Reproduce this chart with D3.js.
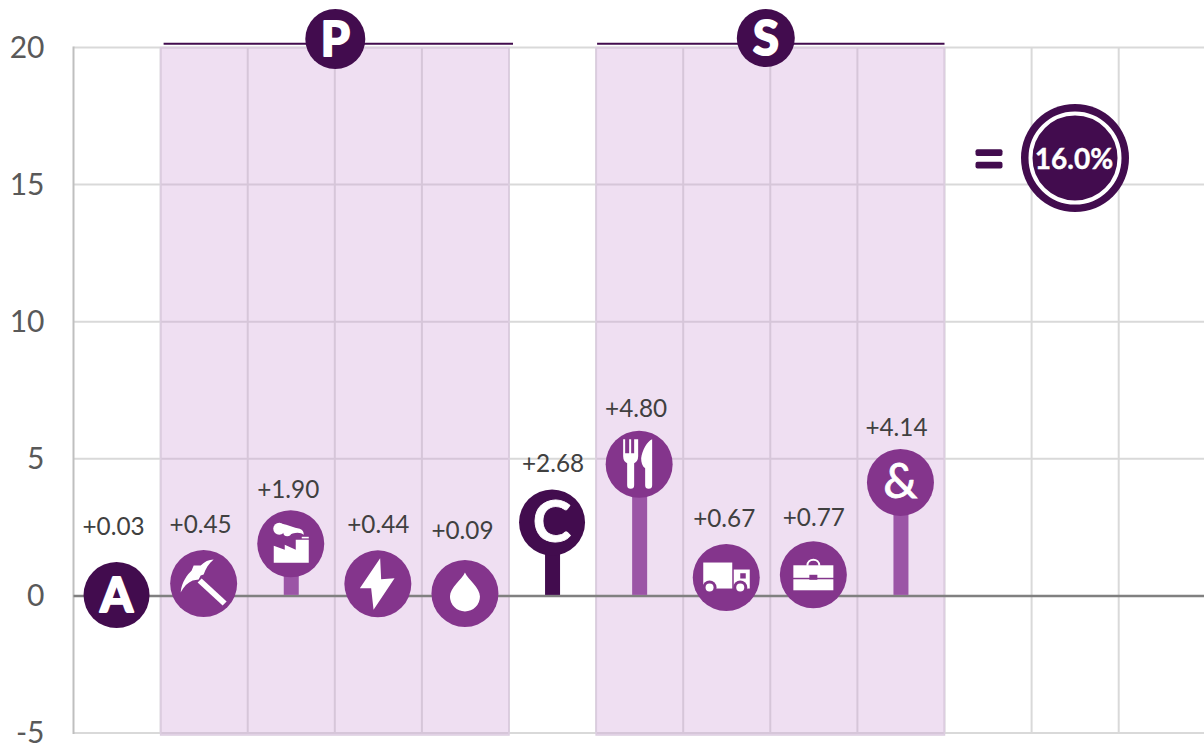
<!DOCTYPE html>
<html><head><meta charset="utf-8">
<script src="https://cdn.jsdelivr.net/npm/d3@7/dist/d3.min.js"></script>
<style>html,body{margin:0;background:#fff}svg{display:block}text{font-family:Lato,"Open Sans",sans-serif}</style>
</head><body><svg id="c" width="1204" height="745"></svg>
<script>
const categories=["Agriculture","Mining","Manufacturing","Electricity","Water","Construction","Hospitality","Transport","Business","Other"];
const values=[0.03,0.45,1.90,0.44,0.09,2.68,4.80,0.67,0.77,4.14];
const valueLabels=["+0.03","+0.45","+1.90","+0.44","+0.09","+2.68","+4.80","+0.67","+0.77","+4.14"];
const icons=["A","pick","factory","bolt","drop","C","fork","truck","case","&"];
const yTicks=[-5,0,5,10,15,20];
const groupNames=["P","S"];
const groupFirst=[1,6];
const groupLast=[4,9];
const totalLabel="16.0%";

const DARK="#420c4e",PURPLE="#84358c",STEM="#9b55a6",GRID="#d9d9d9";
const labelLift=[69,59,54,59,63,59,56,59,57,55];
const labelShift=[-3.5,-3.5,-3,0,-3,0.5,-3.5,-2.5,0,-4.5];
const svg=d3.select("#c");
const slots=d3.range(13);
const x=d3.scaleBand().domain(slots).range([73.5,1205.8]);
const y=d3.scaleLinear().domain([-5,20]).range([733,47.5]);
const cx=i=>x(i)+x.bandwidth()/2;

// gridlines
const grid=svg.append("g");
grid.selectAll("line.h").data(yTicks).join("line").attr("class","h")
 .attr("x1",x.range()[0]).attr("x2",1204).attr("y1",d=>y(d)).attr("y2",d=>y(d))
 .attr("stroke",GRID).attr("stroke-width",2);
grid.selectAll("line.v").data(slots.slice(1)).join("line").attr("class","v")
 .attr("x1",d=>x(d)).attr("x2",d=>x(d)).attr("y1",y(20)).attr("y2",y(-5))
 .attr("stroke",GRID).attr("stroke-width",2);
grid.append("line").attr("x1",x(0)).attr("x2",x(0)).attr("y1",y(20)-1).attr("y2",y(-5)+1)
 .attr("stroke","#bfbfbf").attr("stroke-width",2);

// y axis labels
const ax=svg.append("g").attr("transform",`translate(${x(0)},0)`)
 .call(d3.axisLeft(y).tickValues(yTicks).tickSize(0).tickPadding(29).tickFormat(d=>String(d)));
ax.select(".domain").remove();
ax.selectAll("text").attr("font-size",30).attr("fill","#595959").style("font-family","Lato,sans-serif");

// group bands
groupNames.forEach((g,k)=>{
 const x0=x(groupFirst[k]),x1=x(groupLast[k])+x.bandwidth();
 svg.append("rect").attr("x",x0).attr("y",y(20)).attr("width",x1-x0).attr("height",735-y(20))
  .attr("fill","#d1a4da").attr("fill-opacity",0.35);
 svg.append("rect").attr("x",x0).attr("y",y(20)).attr("width",x1-x0).attr("height",735-y(20))
  .attr("fill","none").attr("stroke","#dccde0").attr("stroke-width",1.5);
});

// zero line
svg.append("line").attr("x1",x(0)).attr("x2",1204).attr("y1",y(0)).attr("y2",y(0))
 .attr("stroke","#808080").attr("stroke-width",2.5);

// group headers
const headerOffset=[[3,4],[1,0]];
groupNames.forEach((g,k)=>{
 const x0=x(groupFirst[k]),x1=x(groupLast[k])+x.bandwidth();
 svg.append("line").attr("x1",x0+headerOffset[k][0]).attr("x2",x1+headerOffset[k][1]).attr("y1",43.7).attr("y2",43.7)
  .attr("stroke",DARK).attr("stroke-width",2);
 const mx=(x0+x1)/2+(k?-4.5:0.5);
 const r=svg.append("g").attr("transform",`translate(${mx},${k?38:39})`);
 r.append("circle").attr("r",k?29:30).attr("fill",DARK);
 letter(r,g,47,16.5);
});

function letter(sel,t,size,dy,sw=2.2){
 sel.append("text").attr("text-anchor","middle").attr("y",dy).attr("font-size",size)
  .attr("font-weight",700).attr("fill","#fff").attr("stroke","#fff").attr("stroke-width",sw)
  .attr("stroke-linejoin","round").text(t);
}

const draw={
 A:g=>letter(g,"A",47,17),
 C:g=>letter(g,"C",58,20,0.8),
 "&":g=>g.append("text").attr("text-anchor","middle").attr("y",16).attr("font-size",48)
   .attr("fill","#fff").attr("stroke","#fff").attr("stroke-width",0.8).text("&"),
 pick:g=>{
  g.append("path").attr("fill","#fff").attr("d","M-23,9C-22,-2-16,-9-12,-13L-10,-18L-3,-18C1,-22 5,-24 10,-24C5,-20 2,-15 0,-9L-3,-8L-5,-4L-11,-3C-16,-1-20,3-23,9Z");
  g.append("path").attr("fill","#fff").attr("d","M-6,-1L-2,-5L23,18L19,22Z");
 },
 factory:g=>{
  g.append("path").attr("fill","#fff").attr("d","M-17,19V2L-6,6V1L5,6V-4H18V19Z");
  g.append("rect").attr("x",11).attr("y",-7).attr("width",7).attr("height",1.6).attr("fill","#fff");
  g.append("circle").attr("cx",-11.5).attr("cy",-15).attr("r",6).attr("fill","#fff");
  g.append("circle").attr("cx",-3.5).attr("cy",-11.5).attr("r",4).attr("fill","#fff");
  g.append("path").attr("fill","#fff").attr("d","M-9,-20C-3,-19 3,-16 9,-15C12,-14 13,-12 13,-9C10,-12 3,-12-3,-8Z");
 },
 bolt:g=>g.append("path").attr("fill","#fff").attr("d","M2.3,-25.7L-18,4.3H-6.7L-4.3,26L16.7,-5.7L3.3,-4.7Z"),
 drop:g=>g.append("path").attr("fill","#fff").attr("d","M0,-21C3,-14 15,-6 15,3A15,15 0 0 1 -15,3C-15,-6-3,-14 0,-21Z"),
 fork:g=>{
  g.append("path").attr("fill","#fff").attr("d","M-16,-25H-14V-11H-10V-25H-8V-11H-5V-25H-1V-8C-1,-4-3,-2-5,-1V21A3.5,3.5 0 0 1 -12,21V-1C-14,-2-16,-4-16,-8Z");
  g.append("path").attr("fill","#fff").attr("d","M13,-25V21A3.5,3.5 0 0 1 6,21V4C3,2 2,-2 2,-6C3,-14 8,-23 13,-25Z");
 },
 truck:g=>{
  g.append("rect").attr("x",-23).attr("y",-15).attr("width",29).attr("height",26).attr("fill","#fff");
  g.append("path").attr("fill","#fff").attr("d","M7.5,-8H23.5V11H7.5Z");
  g.append("rect").attr("x",14).attr("y",-4.3).attr("width",5.5).attr("height",5.3).attr("fill",PURPLE);
  [-16.7,14].forEach(w=>{
   g.append("circle").attr("cx",w).attr("cy",10).attr("r",7).attr("fill",PURPLE);
   g.append("circle").attr("cx",w).attr("cy",10).attr("r",4).attr("fill","#fff");
  });
 },
 case:g=>{
  g.append("path").attr("fill","none").attr("stroke","#fff").attr("stroke-width",2).attr("d","M-6,-9C-6,-17 6,-17 6,-9");
  g.append("rect").attr("x",-20).attr("y",-9.5).attr("width",40).attr("height",12.5).attr("fill","#fff");
  g.append("rect").attr("x",-20).attr("y",4.5).attr("width",40).attr("height",11).attr("fill","#fff");
  g.append("rect").attr("x",-4).attr("y",0).attr("width",8).attr("height",5).attr("fill",PURPLE);
 }
};

// stems and bubbles
const isDark=i=>icons[i]==="A"||icons[i]==="C";
svg.selectAll("rect.stem").data(values).join("rect").attr("class","stem")
 .attr("x",(d,i)=>cx(i)-7.5).attr("width",15).attr("y",d=>y(d)).attr("height",d=>y(0)-y(d)-1)
 .attr("fill",(d,i)=>isDark(i)?DARK:STEM);
const nodes=svg.selectAll("g.node").data(values).join("g").attr("class","node")
 .attr("transform",(d,i)=>`translate(${cx(i)-0.5},${y(d)})`);
nodes.append("circle").attr("r",(d,i)=>isDark(i)?33:33.5).attr("fill",(d,i)=>isDark(i)?DARK:PURPLE);
nodes.each(function(d,i){draw[icons[i]](d3.select(this));});

// value labels
svg.selectAll("text.val").data(values).join("text").attr("class","val")
 .attr("x",(d,i)=>cx(i)+labelShift[i]).attr("y",(d,i)=>y(d)-labelLift[i]+8.5)
 .attr("text-anchor","middle").attr("font-size",24.3).attr("fill","#404040")
 .text((d,i)=>valueLabels[i]);

// total
svg.append("rect").attr("x",975.5).attr("y",149.3).attr("width",27).attr("height",6.6).attr("rx",2).attr("fill",DARK);
svg.append("rect").attr("x",975.5).attr("y",161.8).attr("width",27).attr("height",6.6).attr("rx",2).attr("fill",DARK);
const tot=svg.append("g").attr("transform","translate(1075,158)");
tot.append("circle").attr("r",54).attr("fill",DARK);
tot.append("circle").attr("r",44.5).attr("fill","none").attr("stroke","#fff").attr("stroke-width",4);
tot.append("text").attr("text-anchor","middle").attr("x",-1).attr("y",10.5).attr("font-size",28).attr("font-weight",700).attr("fill","#fff").attr("stroke","#fff").attr("stroke-width",0.4).text(totalLabel);
</script></body></html>
